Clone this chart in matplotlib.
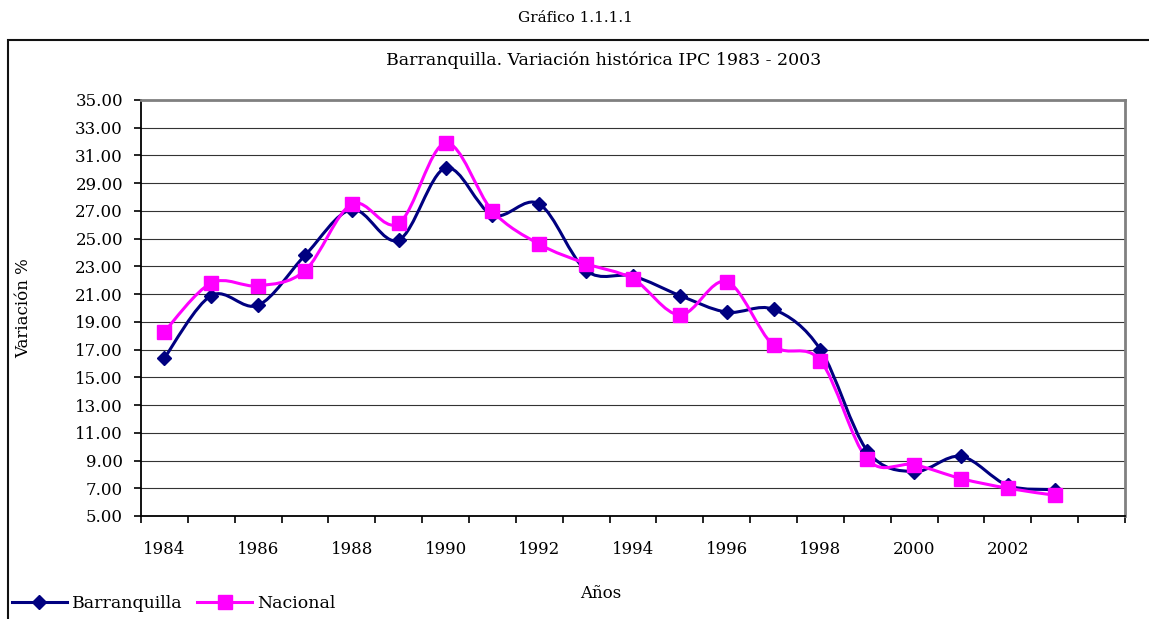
import matplotlib
matplotlib.use('Agg')
import matplotlib.pyplot as plt
from matplotlib.path import Path
from matplotlib.patches import PathPatch, Rectangle
from matplotlib.lines import Line2D
import numpy as np

# values
years = list(range(1984, 2004))
barranquilla = [16.4, 20.9, 20.2, 23.8, 27.1, 24.9, 30.1, 26.7, 27.5, 22.7,
                22.3, 20.9, 19.7, 19.9, 17.0, 9.7, 8.2, 9.3, 7.2, 6.9]
nacional = [18.3, 21.8, 21.6, 22.7, 27.5, 26.1, 31.9, 27.0, 24.6, 23.2,
            22.1, 19.5, 21.9, 17.3, 16.2, 9.1, 8.7, 7.7, 7.0, 6.5]
year_labels = [str(y) for y in years[::2]]
y_ticks = list(range(5, 36, 2))

NAVY = '#000080'
MAGENTA = '#FF00FF'

plt.rcParams['font.family'] = ['DejaVu Serif']


def smooth_path(x, y):
    # Excel-style smoothed line: cubic bezier through the data points
    pts = np.column_stack([x, y])
    ext = np.vstack([pts[0], pts, pts[-1]])
    verts = [pts[0]]
    codes = [Path.MOVETO]
    for i in range(len(pts) - 1):
        p0, p1, p2, p3 = ext[i], ext[i + 1], ext[i + 2], ext[i + 3]
        verts += [p1 + (p2 - p0) / 6, p2 - (p3 - p1) / 6, p2]
        codes += [Path.CURVE4] * 3
    return Path(verts, codes)


fig = plt.figure(figsize=(11.49, 6.19), dpi=100)
ax = fig.add_axes([141 / 1149, 103 / 619, 984 / 1149, 416 / 619])

x = np.arange(len(years)) + 0.5

# draw the two series
for values, color, marker, ms in [(barranquilla, NAVY, 'D', 7),
                                  (nacional, MAGENTA, 's', 10.5)]:
    ax.add_patch(PathPatch(smooth_path(x, values), facecolor='none',
                           edgecolor=color, lw=2.2, zorder=3))
    ax.plot(x, values, linestyle='none', marker=marker, ms=ms,
            color=color, zorder=4)

ax.set_xlim(0, 21)
ax.set_ylim(5, 35)

# axis ticks
ax.set_yticks(y_ticks)
ax.set_yticklabels(['%.2f' % v for v in y_ticks], fontsize=12)
ax.tick_params(axis='y', direction='out', length=5, width=1.2, pad=8)
ax.set_xticks(np.arange(0, 22))
ax.set_xticklabels([])
ax.set_xticks(np.arange(0, 19, 2) + 0.5, minor=True)
ax.set_xticklabels(year_labels, minor=True, fontsize=12)
ax.tick_params(axis='x', which='major', direction='out', length=5, width=1.2)
ax.tick_params(axis='x', which='minor', length=0, pad=18)

ax.grid(axis='y', color='#333333', lw=0.8)
ax.set_axisbelow(True)
for side in ['top', 'right']:
    ax.spines[side].set_color('#808080')
    ax.spines[side].set_linewidth(2)
for side in ['left', 'bottom']:
    ax.spines[side].set_color('black')
    ax.spines[side].set_linewidth(1.3)

ax.set_ylabel('Variación %', fontsize=12)
ax.yaxis.set_label_coords(-109 / 984, 0.5)

# titles and axis label
fig.text(575 / 1149, 1 - 18 / 619, 'Gráfico 1.1.1.1', ha='center', va='center', fontsize=11)
fig.text(604 / 1149, 1 - 60 / 619, 'Barranquilla. Variación histórica IPC 1983 - 2003',
         ha='center', va='center', fontsize=12.5)
fig.text(601 / 1149, 1 - 594 / 619, 'Años', ha='center', va='center', fontsize=12)

# outer chart frame (cut off at right and bottom)
fig.patches.append(Rectangle((8 / 1149, -0.1), 1.1, 1.1 - 40 / 619, transform=fig.transFigure,
                             facecolor='none', edgecolor='#111111', lw=1.5))

# legend
handles = [Line2D([], [], color=NAVY, marker='D', ms=7, lw=2.2),
           Line2D([], [], color=MAGENTA, marker='s', ms=10.5, lw=2.2)]
fig.legend(handles, ['Barranquilla', 'Nacional'], loc='lower left',
           bbox_to_anchor=(-4 / 1149, -0.014), ncol=2, frameon=False,
           fontsize=12.5, handlelength=3.2, handletextpad=0.3, columnspacing=0.8)

plt.savefig('out.png', dpi=100)
